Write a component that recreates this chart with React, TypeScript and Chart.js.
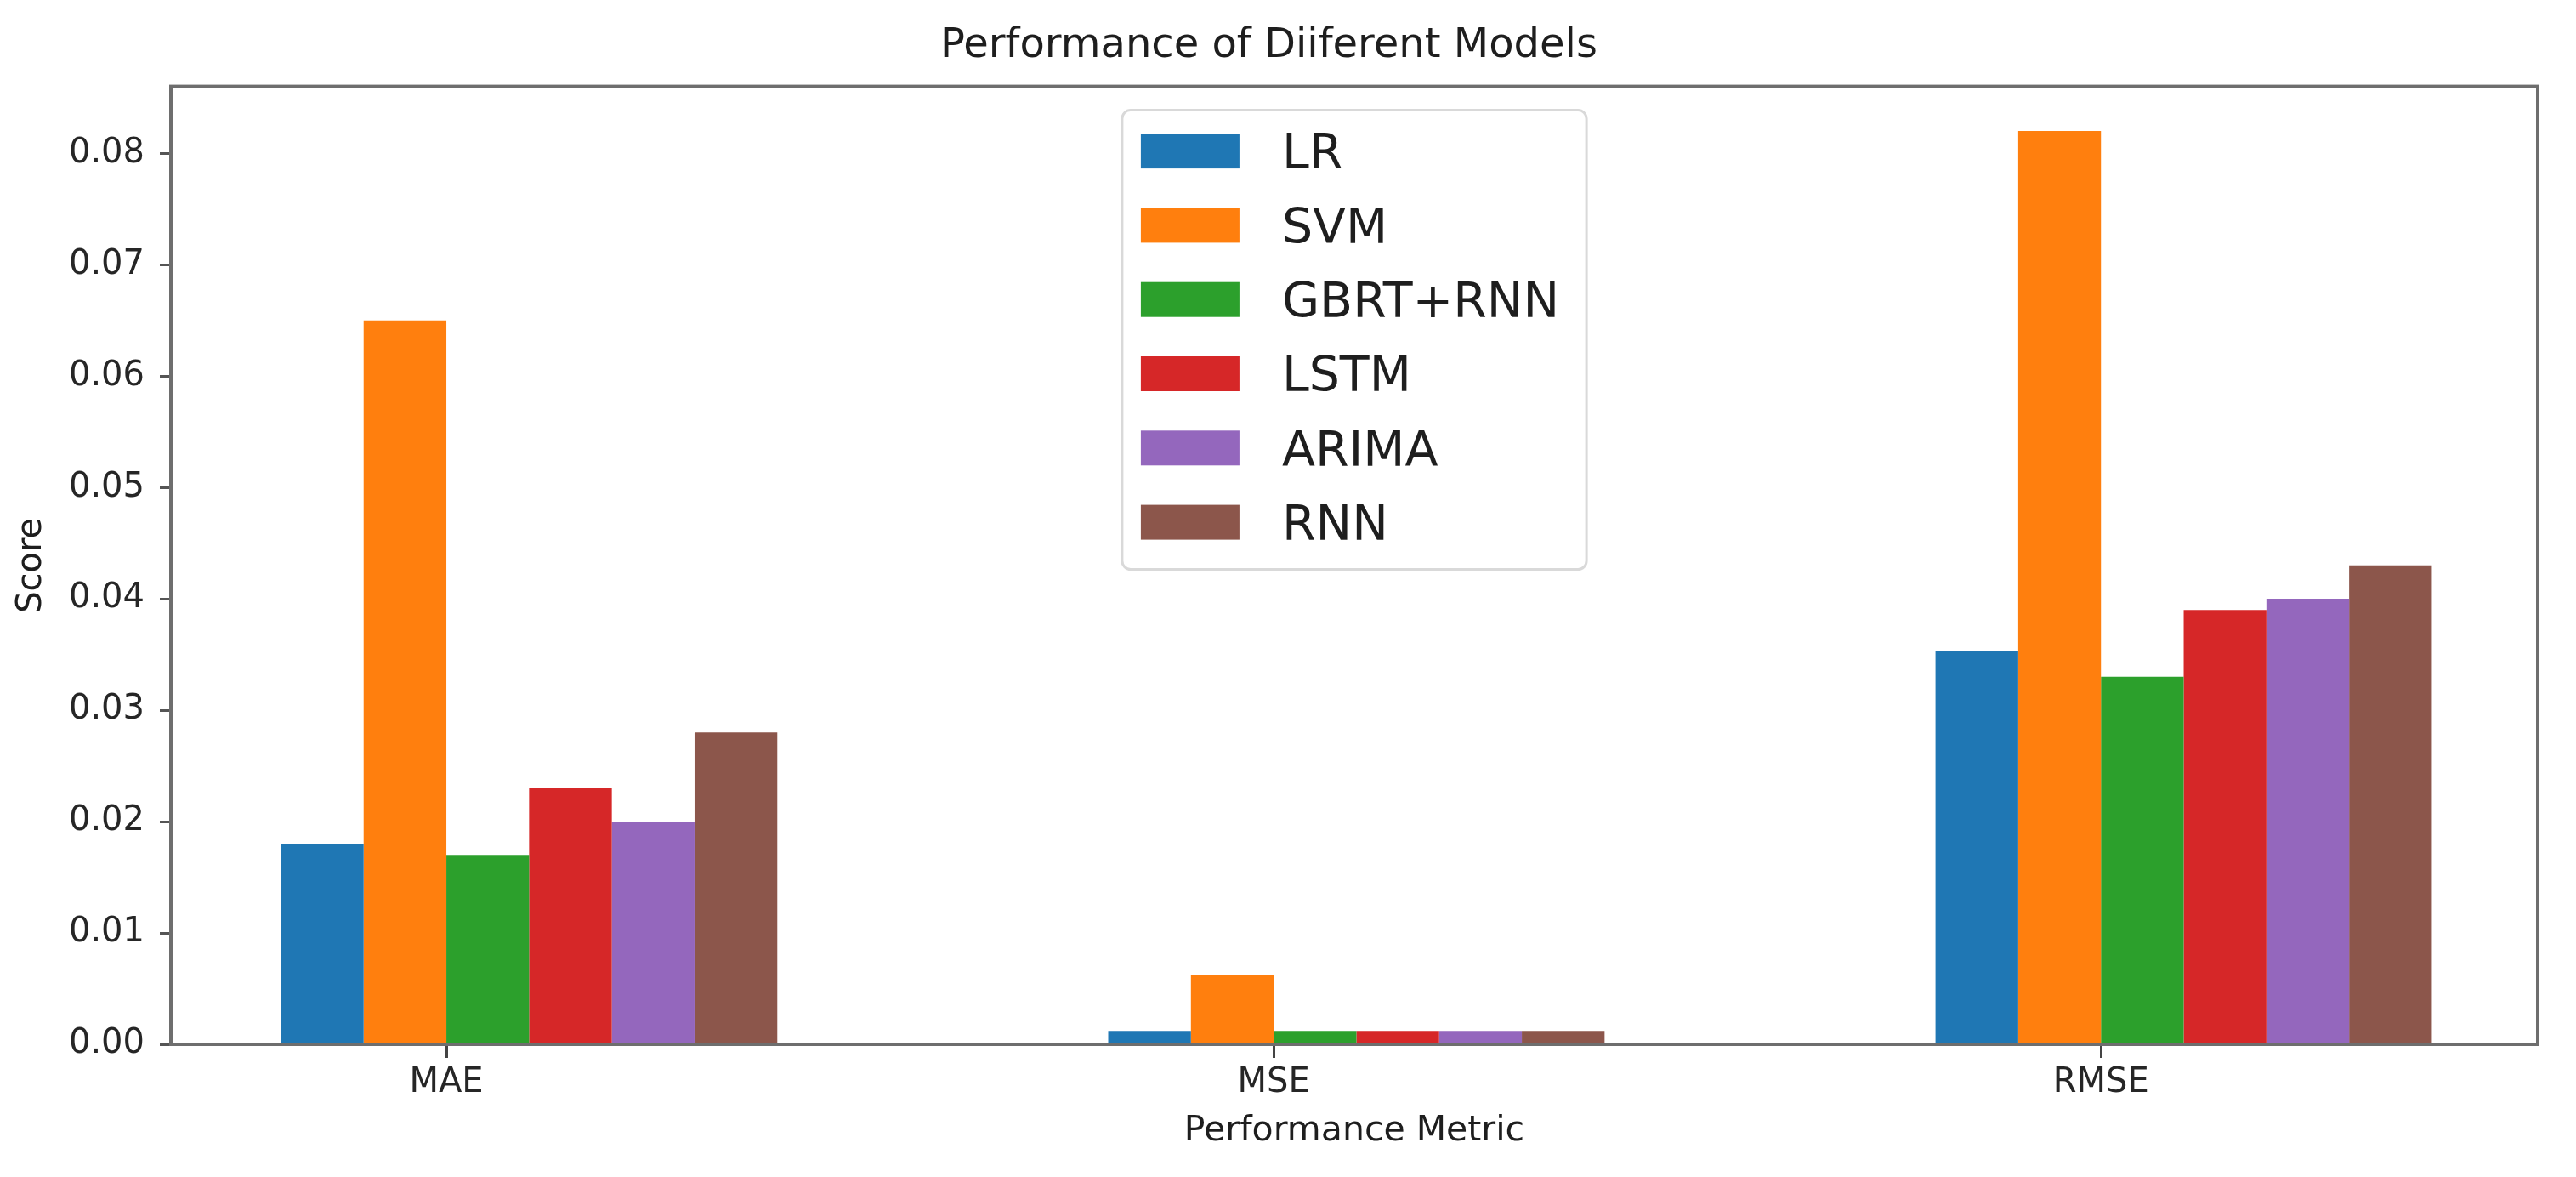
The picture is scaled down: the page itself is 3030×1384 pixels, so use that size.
import React, { useEffect, useRef } from "react";
import { Chart, registerables } from "chart.js";

Chart.register(...registerables);

const CATEGORIES = ["MAE", "MSE", "RMSE"];
const MODELS = ["LR", "SVM", "GBRT+RNN", "LSTM", "ARIMA", "RNN"];
const LR_VALUES = [0.018, 0.0012, 0.0353];
const SVM_VALUES = [0.065, 0.0062, 0.082];
const GBRT_RNN_VALUES = [0.017, 0.0012, 0.033];
const LSTM_VALUES = [0.023, 0.0012, 0.039];
const ARIMA_VALUES = [0.02, 0.0012, 0.04];
const RNN_VALUES = [0.028, 0.0012, 0.043];
const SERIES_VALUES = [LR_VALUES, SVM_VALUES, GBRT_RNN_VALUES, LSTM_VALUES, ARIMA_VALUES, RNN_VALUES];
const COLORS = ["#1f77b4", "#ff7f0e", "#2ca02c", "#d62728", "#9467bd", "#8c564b"];
const Y_TICK_STEP = 0.01;

const TITLE = "Performance of Diiferent Models";
const X_TITLE = "Performance Metric";
const Y_TITLE = "Score";

const FONT = '"DejaVu Sans", "Liberation Sans", sans-serif';
const GROUP_WIDTH = 0.6;
const BAR_UNIT = GROUP_WIDTH / MODELS.length;

const framePlugin = {
  id: "frame",
  afterDatasetsDraw(chart: any) {
    const { ctx, chartArea } = chart;
    ctx.save();
    ctx.strokeStyle = "#6e6e6e";
    ctx.lineWidth = 4;
    ctx.strokeRect(chartArea.left, chartArea.top, chartArea.right - chartArea.left, chartArea.bottom - chartArea.top);
    ctx.restore();
  },
};

const legendPlugin = {
  id: "boxLegend",
  afterDraw(chart: any) {
    const { ctx, chartArea } = chart;
    ctx.save();
    ctx.font = `57px ${FONT}`;
    const datasets = chart.data.datasets;
    const maxW = Math.max(...datasets.map((d: any) => ctx.measureText(d.label).width));
    const swatchLeft = 22, swatchW = 116, swatchH = 41, textLeft = 188, rightPad = 32;
    const rowTop = 48, rowGap = 87.3, height = 540;
    const width = textLeft + maxW + rightPad;
    const x0 = (chartArea.left + chartArea.right) / 2 - width / 2;
    const y0 = chartArea.top + 28;
    ctx.beginPath();
    ctx.roundRect(x0, y0, width, height, 10);
    ctx.fillStyle = "rgba(255,255,255,0.85)";
    ctx.fill();
    ctx.lineWidth = 3;
    ctx.strokeStyle = "#d9d9d9";
    ctx.stroke();
    datasets.forEach((d: any, i: number) => {
      const cy = y0 + rowTop + i * rowGap;
      ctx.fillStyle = d.backgroundColor;
      ctx.fillRect(x0 + swatchLeft, cy - swatchH / 2, swatchW, swatchH);
      ctx.fillStyle = "#1e1e1e";
      ctx.textBaseline = "alphabetic";
      ctx.textAlign = "left";
      ctx.fillText(d.label, x0 + textLeft, cy + 0.3645 * 57);
    });
    ctx.restore();
  },
};

export default function App() {
  const canvasRef = useRef<HTMLCanvasElement | null>(null);

  useEffect(() => {
    document.body.style.margin = "0";
    const canvas = canvasRef.current;
    if (!canvas) return;
    const chart = new Chart(canvas, {
      type: "bar",
      data: {
        datasets: MODELS.map((m, si) => ({
          label: m,
          data: CATEGORIES.map((_, ci) => ({ x: ci, y: SERIES_VALUES[si][ci] })),
          backgroundColor: COLORS[si],
          borderWidth: 0,
          categoryPercentage: GROUP_WIDTH,
          barPercentage: 1.0,
        })),
      },
      options: {
        animation: false,
        responsive: true,
        maintainAspectRatio: false,
        layout: { padding: { left: 0, right: 45, top: 0, bottom: 0 } },
        plugins: {
          legend: { display: false },
          tooltip: { enabled: false },
          title: {
            display: true,
            text: TITLE,
            color: "#1e1e1e",
            font: { family: FONT, size: 48, weight: "normal" },
            padding: { top: 26, bottom: 18 },
          },
        },
        scales: {
          x: {
            type: "linear",
            offset: false,
            min: -0.433,
            max: CATEGORIES.length - 1 + 0.428,
            afterBuildTicks(scale: any) {
              scale.ticks = CATEGORIES.map((_, i) => ({ value: i - BAR_UNIT }));
            },
            afterFit(scale: any) {
              scale.height = 156;
            },
            ticks: {
              autoSkip: false,
              maxRotation: 0,
              padding: 6,
              color: "#262626",
              font: { family: FONT, size: 40 },
              callback: (_v: any, i: number) => CATEGORIES[i],
            },
            grid: { offset: false, drawOnChartArea: false, drawTicks: true, tickLength: 16, tickWidth: 3, tickColor: "#444" },
            border: { display: false },
            title: {
              display: true,
              text: X_TITLE,
              color: "#1e1e1e",
              font: { family: FONT, size: 41 },
              padding: { top: 0, bottom: 29 },
            },
          },
          y: {
            min: 0,
            max: 0.086,
            afterFit(scale: any) {
              scale.width = 201;
            },
            ticks: {
              stepSize: Y_TICK_STEP,
              includeBounds: false,
              padding: 18,
              color: "#262626",
              font: { family: FONT, size: 40 },
              callback: (v: any) => Number(v).toFixed(2),
            },
            grid: { drawOnChartArea: false, drawTicks: true, tickLength: 13, tickWidth: 3, tickColor: "#555" },
            border: { display: false },
            title: {
              display: true,
              text: Y_TITLE,
              color: "#1e1e1e",
              font: { family: FONT, size: 40 },
              padding: { top: 14, bottom: 0 },
            },
          },
        },
      } as any,
      plugins: [framePlugin, legendPlugin],
    });
    return () => chart.destroy();
  }, []);

  return (
    <div style={{ position: "fixed", left: 0, top: 0, width: 3030, height: 1384, background: "#fff" }}>
      <canvas ref={canvasRef} />
    </div>
  );
}
